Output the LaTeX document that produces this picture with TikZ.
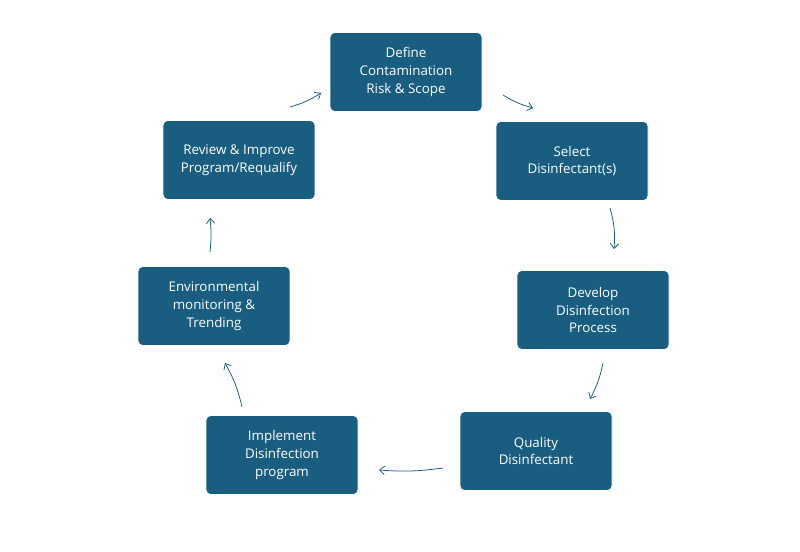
\documentclass[tikz,border=0pt]{standalone}
\usepackage{fontspec}
\setmainfont{Open Sans}
\usetikzlibrary{arrows.meta}

\begin{document}
\begin{tikzpicture}[x=0.05cm,y=-0.05cm,
    stage/.style={shape=rectangle, rounded corners=7pt, draw=white, line width=0.8pt,
      fill={rgb,255:red,25;green,94;blue,128}, text=white, minimum width=7.6cm,
      minimum height=3.95cm, align=center, font=\fontsize{19}{25.5}\selectfont},
    flow/.style={draw={rgb,255:red,25;green,94;blue,128}, line width=1.1pt,
      -{Straight Barb[length=7pt,width=12pt]}}]
    \useasboundingbox (0,0) rectangle (800,552);
    \node[stage] (risk) at (406,72) {Define\\Contamination\\Risk \& Scope};
    \node[stage] (select) at (572,161) {Select\\Disinfectant(s)};
    \node[stage] (develop) at (593,310) {Develop\\Disinfection\\Process};
    \node[stage] (quality) at (536,451) {Quality\\Disinfectant};
    \node[stage] (implement) at (282,455) {Implement\\Disinfection\\program};
    \node[stage] (monitor) at (214,306) {Environmental\\monitoring \&\\Trending};
    \node[stage] (review) at (239,160) {Review \& Improve\\Program/Requalify};

    % arrow ends
    \coordinate (a1) at (503,95);  \coordinate (b1) at (533,108);
    \coordinate (a2) at (610,208); \coordinate (b2) at (614,249);
    \coordinate (a3) at (603,363); \coordinate (b3) at (590,399);
    \coordinate (a4) at (443,468); \coordinate (b4) at (379,470);
    \coordinate (a5) at (242,407); \coordinate (b5) at (225,363);
    \coordinate (a6) at (210,252); \coordinate (b6) at (210,218);
    \coordinate (a7) at (290,107); \coordinate (b7) at (321,93);
    \draw[flow] (a1) to[bend right=8] (b1);
    \draw[flow] (a2) to[bend left=10] (b2);
    \draw[flow] (a3) to[bend left=8] (b3);
    \draw[flow] (a4) to[bend left=6] (b4);
    \draw[flow] (a5) to[bend right=8] (b5);
    \draw[flow] (a6) to[bend right=6] (b6);
    \draw[flow] (a7) to[bend right=8] (b7);
\end{tikzpicture}
\end{document}
